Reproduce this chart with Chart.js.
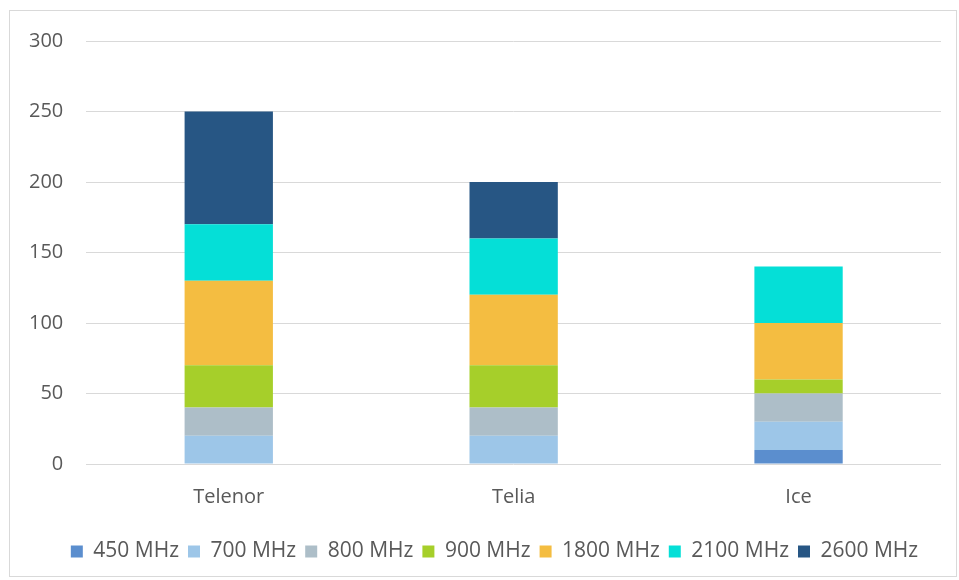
<!DOCTYPE html>
<html>
<head>
<meta charset="utf-8">
<script src="https://cdn.jsdelivr.net/npm/chart.js@4"></script>
<style>
  body { margin: 0; background: #fff; }
  #frame { position: absolute; left: 9px; top: 10px; width: 948px; height: 567px; border: 1px solid #d9d9d9; box-sizing: border-box; }
  #wrap { position: absolute; left: 0; top: 0; width: 959px; height: 580px; }
</style>
</head>
<body>
<div id="frame"></div>
<div id="wrap"><canvas id="chart"></canvas></div>
<script>
// Data
const operators = ['Telenor', 'Telia', 'Ice'];
const bands = ['450 MHz', '700 MHz', '800 MHz', '900 MHz', '1800 MHz', '2100 MHz', '2600 MHz'];
const mhz450 = [0, 0, 10];
const mhz700 = [20, 20, 20];
const mhz800 = [20, 20, 20];
const mhz900 = [30, 30, 10];
const mhz1800 = [60, 50, 40];
const mhz2100 = [40, 40, 40];
const mhz2600 = [80, 40, 0];
const yTicks = [0, 50, 100, 150, 200, 250, 300];

const bandColors = ['#5B8ECE', '#9DC6E8', '#ADBEC8', '#A6CF2A', '#F4BD41', '#05DFD7', '#275684'];
const series = [mhz450, mhz700, mhz800, mhz900, mhz1800, mhz2100, mhz2600];

// nudge the legend right so it centres under the whole frame, like the original
const legendShift = {
    id: 'legendShift',
    afterLayout(chart) {
        chart.legend.left += 21;
        chart.legend.right += 21;
    }
};

const ctx = document.getElementById('chart').getContext('2d');
new Chart(ctx, {
    type: 'bar',
    data: {
        labels: operators,
        datasets: bands.map((b, i) => ({
            label: b,
            data: series[i],
            backgroundColor: bandColors[i],
            borderWidth: 0,
            categoryPercentage: 1,
            barPercentage: 0.31
        }))
    },
    options: {
        responsive: true,
        maintainAspectRatio: false,
        animation: false,
        layout: { padding: { left: 6, right: 18, top: 41, bottom: 8 } },
        plugins: {
            tooltip: { enabled: false },
            legend: {
                position: 'bottom',
                labels: {
                    color: '#595959',
                    font: { family: 'Open Sans', size: 21 },
                    boxWidth: 12,
                    boxHeight: 12,
                    padding: 9
                }
            }
        },
        scales: {
            x: {
                stacked: true,
                grid: { display: false },
                border: { display: false },
                ticks: { color: '#595959', font: { family: 'Open Sans', size: 20 }, padding: 13 },
                afterFit: axis => { axis.height += 10; }
            },
            y: {
                stacked: true,
                min: 0,
                max: 300,
                afterBuildTicks: axis => { axis.ticks = yTicks.map(v => ({ value: v })); },
                grid: { color: '#d9d9d9', lineWidth: 1, drawTicks: false },
                border: { display: false },
                ticks: { color: '#595959', font: { family: 'Open Sans', size: 20 }, padding: 23 }
            }
        }
    },
    plugins: [legendShift]
});
</script>
</body>
</html>
